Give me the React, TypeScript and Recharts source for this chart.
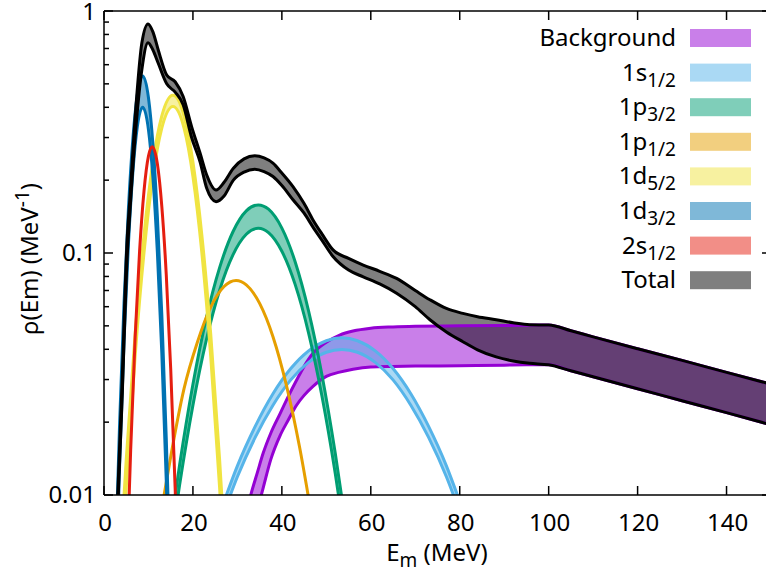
import { Area, ComposedChart, Line, XAxis, YAxis } from 'recharts'

const FONT = '"Noto Sans", sans-serif'

const X_TICKS = [0, 20, 40, 60, 80, 100, 120, 140]
const Y_TICKS = [0.01, 0.02, 0.03, 0.04, 0.05, 0.06, 0.07, 0.08, 0.09, 0.1, 0.2, 0.3, 0.4, 0.5, 0.6, 0.7, 0.8, 0.9, 1]
const Y_MAJOR = [0.01, 0.1, 1]

// Background
const bgX = [32.5, 33, 34.5, 35.8, 37.5, 39.6, 41.5, 43.3, 45, 47, 50, 53, 56, 60, 65, 70, 80, 90, 95, 100, 105, 110, 120, 130, 140, 150]
const bgHi = [0.0092, 0.01, 0.0124, 0.0149, 0.018, 0.0217, 0.0257, 0.0298, 0.034, 0.0385, 0.0428, 0.0458, 0.0476, 0.0489, 0.0495, 0.0498, 0.05, 0.0502, 0.0503, 0.0504, 0.0477, 0.045, 0.0402, 0.036, 0.0321, 0.0287]
const bgLo = [0.0062, 0.0069, 0.0087, 0.0107, 0.014, 0.0176, 0.0205, 0.0235, 0.0258, 0.0281, 0.0309, 0.0322, 0.0331, 0.0338, 0.034, 0.0341, 0.0342, 0.0344, 0.0345, 0.0345, 0.0326, 0.0308, 0.0275, 0.0245, 0.0219, 0.0195]

// 1s1/2
const s1X = [27, 30, 34, 38, 42, 46, 50, 53.5, 57, 61, 65, 69, 73, 77, 80]
const s1Hi = [0.0094, 0.0132, 0.0192, 0.0262, 0.0333, 0.0394, 0.0434, 0.0446, 0.0434, 0.0394, 0.0333, 0.0262, 0.0192, 0.0132, 0.0094]
const s1Lo = [0.0085, 0.0119, 0.0173, 0.0235, 0.0299, 0.0353, 0.0389, 0.0399, 0.0389, 0.0353, 0.0299, 0.0235, 0.0173, 0.0119, 0.0085]

// 1p3/2
const p3X = [15, 17, 20, 23, 26, 29, 32, 34.7, 37, 40, 43, 46, 49, 52, 54]
const p3Hi = [0.0074, 0.0133, 0.0287, 0.0537, 0.087, 0.1224, 0.1493, 0.158, 0.1517, 0.1267, 0.0918, 0.0577, 0.0315, 0.0149, 0.0084]
const p3Lo = [0.0062, 0.011, 0.0235, 0.0436, 0.0702, 0.0983, 0.1196, 0.1266, 0.1215, 0.1017, 0.074, 0.0468, 0.0257, 0.0123, 0.007]

// 1p1/2
const p1X = [13, 15, 18, 21, 24, 27, 29.7, 32, 35, 38, 41, 44, 46.5]
const p1V = [0.0088, 0.0144, 0.0275, 0.0428, 0.0598, 0.0727, 0.077, 0.0739, 0.0619, 0.0451, 0.0285, 0.0157, 0.0086]

// 1d5/2
const d5X = [4, 5, 7, 9, 11, 13, 15.5, 18, 20, 22, 24, 26, 27]
const d5Hi = [0.007, 0.014, 0.0463, 0.1189, 0.2375, 0.3688, 0.449, 0.3688, 0.2375, 0.1189, 0.0463, 0.014, 0.007]
const d5Lo = [0.0052, 0.0107, 0.0374, 0.1004, 0.207, 0.328, 0.403, 0.328, 0.207, 0.1004, 0.0374, 0.0107, 0.0052]

// 1d3/2
const d3X = [2.5, 3.5, 4.5, 5.5, 6.5, 7.5, 8.7, 10, 11, 12, 13, 14, 15]
const d3Hi = [0.0048, 0.0195, 0.0619, 0.1534, 0.2976, 0.4518, 0.539, 0.438, 0.2817, 0.1416, 0.0557, 0.0172, 0.0041]
const d3Lo = [0.0031, 0.0131, 0.043, 0.1095, 0.2169, 0.3334, 0.4, 0.323, 0.2049, 0.1009, 0.0386, 0.0115, 0.0026]

// 2s1/2
const s2X = [5, 6, 7, 8, 9, 10, 10.85, 12, 13, 14, 15, 16, 17]
const s2V = [0.0042, 0.0154, 0.0447, 0.1016, 0.1807, 0.2518, 0.275, 0.2338, 0.156, 0.0815, 0.0333, 0.0107, 0.0027]

// Total
const totX = [3, 4, 5.2, 5.8, 7.3, 8.5, 9.9, 11, 12.2, 14.1, 16, 17.8, 19.7, 21.6, 23.1, 25.2, 27, 29.1, 31.5, 33.9, 36, 38, 40, 42.5, 45, 47, 49, 51.5, 55, 58.3, 62, 65.8, 70, 73.3, 77, 80.7, 84, 88.2, 92, 95.7, 100, 105, 110, 120, 130, 140, 150]
const totHi = [0.009, 0.027, 0.113, 0.166, 0.43, 0.735, 0.884, 0.82, 0.69, 0.544, 0.51, 0.443, 0.333, 0.259, 0.21, 0.182, 0.196, 0.224, 0.245, 0.252, 0.247, 0.235, 0.214, 0.188, 0.16, 0.137, 0.12, 0.103, 0.095, 0.0892, 0.084, 0.0785, 0.07, 0.0641, 0.059, 0.0563, 0.0545, 0.053, 0.0515, 0.0505, 0.0504, 0.0477, 0.045, 0.0402, 0.036, 0.0321, 0.0287]
const totLo = [0.008, 0.023, 0.095, 0.145, 0.35, 0.57, 0.74, 0.69, 0.608, 0.5, 0.462, 0.41, 0.3, 0.238, 0.185, 0.163, 0.172, 0.2, 0.216, 0.222, 0.217, 0.207, 0.19, 0.166, 0.146, 0.128, 0.113, 0.0967, 0.085, 0.0797, 0.0745, 0.0682, 0.06, 0.053, 0.0472, 0.043, 0.0398, 0.0372, 0.0358, 0.035, 0.0345, 0.0326, 0.0308, 0.0275, 0.0245, 0.0219, 0.0195]

const LEGEND_NAMES = ['Background', '1s', '1p', '1p', '1d', '1d', '2s', 'Total']
const LEGEND_SUBS = ['', '1/2', '3/2', '1/2', '5/2', '3/2', '1/2', '']
const COLORS = ['#9400d3', '#56b4e9', '#009e73', '#e69f00', '#f0e442', '#0072b2', '#e51e10', '#000000']

type Row = { x: number; lo?: number; hi?: number; v?: number }

const band = (xs: number[], lo: number[], hi: number[]): Row[] => xs.map((x, i) => ({ x, lo: lo[i], hi: hi[i] }))
const single = (xs: number[], v: number[]): Row[] => xs.map((x, i) => ({ x, v: v[i] }))

const series = [
  { id: 'bg', data: band(bgX, bgLo, bgHi), color: COLORS[0], range: true },
  { id: 's1', data: band(s1X, s1Lo, s1Hi), color: COLORS[1], range: true },
  { id: 'p3', data: band(p3X, p3Lo, p3Hi), color: COLORS[2], range: true },
  { id: 'p1', data: single(p1X, p1V), color: COLORS[3], range: false },
  { id: 'd5', data: band(d5X, d5Lo, d5Hi), color: COLORS[4], range: true },
  { id: 'd3', data: band(d3X, d3Lo, d3Hi), color: COLORS[5], range: true },
  { id: 's2', data: single(s2X, s2V), color: COLORS[6], range: false },
  { id: 'tot', data: band(totX, totLo, totHi), color: COLORS[7], range: true },
]

const txt = { fontFamily: FONT, fontSize: 24, fill: '#000' }

const LeftTick = (p: any) => {
  const v = p.payload.value
  const major = Y_MAJOR.includes(v)
  return (
    <g>
      <line x1={p.x} x2={p.x + (major ? 9 : 5)} y1={p.y} y2={p.y} stroke="#000" strokeWidth={1.5} />
      {major && (
        <text x={p.x - 8} y={p.y + (v === 1 ? 1 : 0)} dy="0.35em" textAnchor="end" {...txt}>
          {String(v)}
        </text>
      )}
    </g>
  )
}

const RightTick = (p: any) => {
  const major = Y_MAJOR.includes(p.payload.value)
  return <line x1={p.x} x2={p.x - (major ? 9 : 5)} y1={p.y} y2={p.y} stroke="#000" strokeWidth={1.5} />
}

const BottomTick = (p: any) => (
  <g>
    <line x1={p.x} x2={p.x} y1={p.y} y2={p.y - 9} stroke="#000" strokeWidth={1.5} />
    <text x={p.x + 1} y={p.y + 28} dy="0.35em" textAnchor="middle" {...txt}>
      {String(p.payload.value)}
    </text>
  </g>
)

const TopTick = (p: any) => <line x1={p.x} x2={p.x} y1={p.y} y2={p.y + 9} stroke="#000" strokeWidth={1.5} />

const XTitle = () => (
  <text x={437} y={561} textAnchor="middle" {...txt}>
    E<tspan fontSize={19} dy={6}>m</tspan>
    <tspan dy={-6}> (MeV)</tspan>
  </text>
)

const YTitle = () => (
  <text transform="translate(38,259) rotate(-90)" x={0} y={0} textAnchor="middle" {...txt}>
    ρ(Em) (MeV<tspan fontSize={19} dy={-9}>-1</tspan>
    <tspan dy={9}>)</tspan>
  </text>
)

function ChartLegend() {
  return (
    <svg width={766} height={300} style={{ position: 'absolute', left: 0, top: 0 }}>
      {LEGEND_NAMES.map((name, i) => {
        const cy = 38 + i * 34.6
        return (
          <g key={i}>
            <text x={676} y={cy + 8} textAnchor="end" {...txt}>
              {name}
              {LEGEND_SUBS[i] && (
                <tspan fontSize={19} dy={6}>
                  {LEGEND_SUBS[i]}
                </tspan>
              )}
            </text>
            <rect x={690} y={cy - 9} width={61} height={18} fill={COLORS[i]} fillOpacity={0.5} />
          </g>
        )
      })}
    </svg>
  )
}

export default function App() {
  const items = series.flatMap((s) => {
    const common = {
      data: s.data,
      type: 'monotone' as const,
      isAnimationActive: false,
    }
    if (!s.range) {
      return [
        <Line key={s.id} {...common} dataKey="v" stroke={s.color} strokeWidth={3} dot={false} activeDot={false} />,
      ]
    }
    return [
      <Area
        key={s.id + '-a'}
        {...common}
        dataKey={(d: Row) => [d.lo, d.hi]}
        stroke="none"
        fill={s.color}
        fillOpacity={0.5}
        activeDot={false}
      />,
      <Line key={s.id + '-lo'} {...common} dataKey="lo" stroke={s.color} strokeWidth={3} dot={false} activeDot={false} />,
      <Line key={s.id + '-hi'} {...common} dataKey="hi" stroke={s.color} strokeWidth={3} dot={false} activeDot={false} />,
    ]
  })

  return (
    <div style={{ position: 'absolute', left: 0, top: 0, width: 766, height: 574, overflow: 'hidden', background: '#fff' }}>
      <ComposedChart width={800} height={574} margin={{ top: 0, right: 0, bottom: 0, left: 0 }}>
        <XAxis
          dataKey="x"
          type="number"
          domain={[0, 150]}
          ticks={X_TICKS}
          interval={0}
          allowDataOverflow
          height={79}
          tickSize={0}
          tickMargin={0}
          tickLine={false}
          tick={<BottomTick />}
          axisLine={{ stroke: '#000', strokeWidth: 1.5 }}
          label={<XTitle />}
        />
        <XAxis
          xAxisId="top"
          orientation="top"
          dataKey="x"
          type="number"
          domain={[0, 150]}
          ticks={X_TICKS}
          interval={0}
          allowDataOverflow
          height={11}
          tickSize={0}
          tickMargin={0}
          tickLine={false}
          tick={<TopTick />}
          axisLine={{ stroke: '#000', strokeWidth: 1.5 }}
        />
        <YAxis
          type="number"
          scale="log"
          domain={[0.01, 1]}
          ticks={Y_TICKS}
          interval={0}
          allowDataOverflow
          width={104}
          tickSize={0}
          tickMargin={0}
          tickLine={false}
          tick={<LeftTick />}
          axisLine={{ stroke: '#000', strokeWidth: 1.5 }}
          label={<YTitle />}
        />
        <YAxis
          yAxisId="right"
          orientation="right"
          type="number"
          scale="log"
          domain={[0.01, 1]}
          ticks={Y_TICKS}
          interval={0}
          allowDataOverflow
          width={29}
          tickSize={0}
          tickMargin={0}
          tickLine={false}
          tick={<RightTick />}
          axisLine={{ stroke: '#000', strokeWidth: 1.5 }}
        />
        {items}
      </ComposedChart>
      <ChartLegend />
    </div>
  )
}
